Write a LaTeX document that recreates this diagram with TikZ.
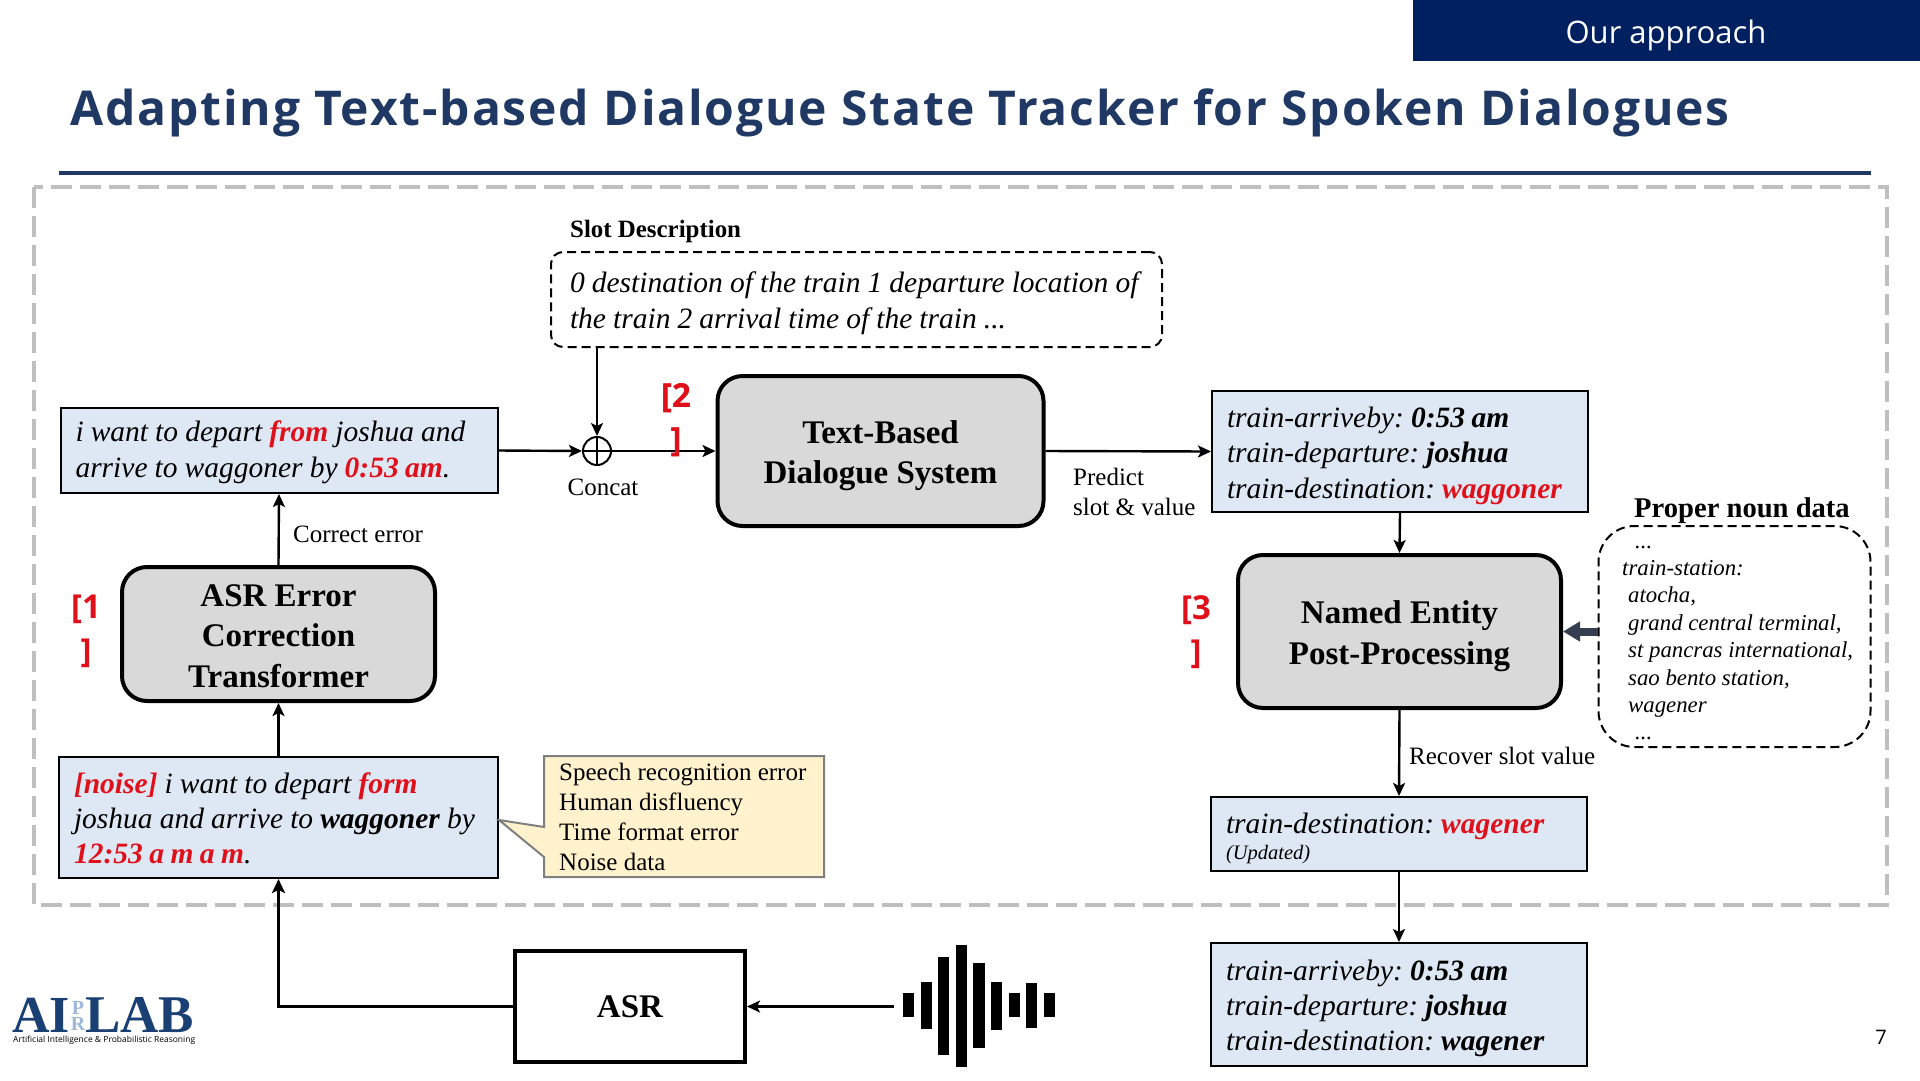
\documentclass[tikz,border=0pt]{standalone}
\usepackage{fontspec}
\setmainfont{Liberation Serif}
\newfontfamily\uifont{Open Sans}
\newfontfamily\titlefont{Open Sans}[LetterSpace=3.9]
\usetikzlibrary{arrows.meta}
\AtBeginDocument{\frenchspacing}
\definecolor{navyhead}{HTML}{002060}
\definecolor{titleblue}{HTML}{1F3864}
\definecolor{framegray}{HTML}{BFBFBF}
\definecolor{boxblue}{HTML}{DEE8F4}
\definecolor{boxgray}{HTML}{D9D9D9}
\definecolor{notefill}{HTML}{FFF2CC}
\definecolor{notedraw}{HTML}{7F7F7F}
\definecolor{hotred}{HTML}{E0101A}
\definecolor{slatearrow}{HTML}{333F50}
\definecolor{logoblue}{HTML}{1A3F72}
\definecolor{logolight}{HTML}{9DB8D9}
\newcommand{\tightsp}[1]{\fontdimen2\font=#1em\relax}
\newcommand{\itbody}{\itshape\tightsp{0.24}}
\newcommand{\rb}[1]{\textcolor{hotred}{\bfseries\tightsp{0.22}#1}}
\newcommand{\bk}[1]{{\bfseries\tightsp{0.22}#1}}
\newcommand{\tp}[1]{\rule{0pt}{#1pt}}
\tikzset{
  bluebox/.style={draw=black,line width=2pt,fill=boxblue,inner xsep=15pt,inner ysep=0pt,align=flush left,
    font=\fontsize{29.5}{36}\selectfont\itbody},
  enginebox/.style={draw=black,line width=4pt,fill=boxgray,rounded corners=25pt,align=center,inner sep=0pt,
    font=\fontsize{33}{40.5}\selectfont\bfseries},
  dashbox/.style={draw=black,line width=2pt,dash pattern=on 9pt off 5pt},
  conn/.style={draw=black,line width=2.4pt,-{Stealth[length=13pt,width=12pt,inset=3pt]}},
  connthick/.style={draw=black,line width=3.2pt,-{Stealth[length=14pt,width=13pt,inset=3pt]}},
  lbl/.style={inner sep=0pt,align=left,font=\fontsize{25}{31}\selectfont},
  refmark/.style={inner sep=0pt,align=center,text=hotred,font=\uifont\bfseries\fontsize{33}{44}\selectfont},
  wavebar/.style={fill=black,draw=none}
}
\begin{document}
\begin{tikzpicture}[x=1pt,y=-1pt]
\useasboundingbox (0,0) rectangle (1920,1080);
\fill[white] (0,0) rectangle (1920,1080);
% header
\fill[navyhead] (1413,0) rectangle (1920,61);
\node[inner sep=0pt,text=white,font=\uifont\fontsize{31}{36}\selectfont] (hdr) at (1666,35) {Our approach};
\node[inner sep=0pt,anchor=west,text=titleblue,font=\titlefont\bfseries\fontsize{48}{56}\selectfont] (ttl) at (70,113) {Adapting Text-based Dialogue State Tracker for Spoken Dialogues};
\draw[titleblue,line width=4pt] (59,173) -- (1871,173);
\draw[framegray,line width=4pt,dash pattern=on 21pt off 8pt] (34,187) rectangle (1887,905);

% left column
\node[bluebox,text width=407pt,minimum height=85pt] (inA) at (279,450.5)
  {\tp{25}i want to depart \rb{from} joshua and\\arrive to waggoner by \rb{0:53 am}.};
\node[enginebox,minimum width=313pt,minimum height=134pt] (corr) at (278.5,634) {\tp{26}ASR Error\\Correction\\Transformer};
\node[bluebox,text width=409pt,minimum height=121pt,font=\fontsize{29.5}{35}\selectfont\itbody] (inC) at (278.5,817.5)
  {\tp{22}\rb{[noise]} i want to depart \rb{form}\\joshua and arrive to \bk{waggoner} by\\\rb{12:53 a m a m}.};
\node[lbl,anchor=west] (corrlbl) at (293,534) {Correct error};
\node[refmark] (ref1) at (86,631) {[1\\]};

% callout
\draw[draw=notedraw,fill=notefill,line width=2pt,line join=miter]
  (544,756) -- (824,756) -- (824,877) -- (544,877) -- (544,857) -- (499,820) -- (544,827) -- cycle;
\node[lbl,anchor=north west,font=\fontsize{25}{30}\selectfont] (note) at (559,763)
  {Speech recognition error\\Human disfluency\\Time format error\\Noise data};

% slot description
\node[inner sep=0pt,anchor=west,font=\fontsize{24.9}{28}\selectfont\bfseries] (slotttl) at (570,232) {Slot Description};
\node[dashbox,rounded corners=12pt,minimum width=611pt,minimum height=95pt,inner xsep=19pt,inner ysep=0pt,text width=573pt,align=flush left,font=\fontsize{29.5}{36}\selectfont\itbody] (slot) at (856.5,299.5)
  {\tp{29}0 destination of the train 1 departure location of\\the train 2 arrival time of the train ...};

% concat
\node[circle,draw=black,line width=2pt,minimum size=28pt,inner sep=0pt] (cc) at (597,451) {};
\draw[black,line width=1.6pt] (cc.north) -- (cc.south) (cc.west) -- (cc.east);
\node[lbl] (cclbl) at (603,487) {Concat};

% text based
\node[enginebox,minimum width=326pt,minimum height=150pt] (tb) at (880.5,451) {\tp{32}Text-Based\\Dialogue System};
\node[lbl,anchor=north west,align=flush left,font=\fontsize{25}{29.5}\selectfont] (pred) at (1073,468) {Predict\\slot \& value};
\node[refmark] (ref2) at (676,420) {[2\\]};

% outputs
\node[bluebox,text width=346pt,minimum height=121pt,font=\fontsize{29.5}{35.5}\selectfont\itbody] (outA) at (1400,451.5)
  {\tp{29}train-arriveby: \bk{0:53 am}\\train-departure: \bk{joshua}\\train-destination: \rb{waggoner}};
\node[enginebox,minimum width=323pt,minimum height=153pt] (ne) at (1399.5,631.5) {\tp{32}Named Entity\\Post-Processing};
\node[refmark] (ref3) at (1196,632) {[3\\]};
\node[inner sep=0pt,font=\fontsize{28.6}{34}\selectfont\bfseries] (nounttl) at (1742,511) {Proper noun data};
\node[dashbox,rounded corners=36pt,minimum width=272pt,minimum height=221pt] (noun) at (1734.5,636.5) {};
\node[inner sep=0pt,anchor=west,align=flush left,font=\fontsize{22.8}{27.4}\selectfont\itshape] (nountxt) at (1622,643)
  {\hspace*{13pt}...\\train-station:\\\hspace*{6pt}atocha,\\\hspace*{6pt}grand central terminal,\\\hspace*{6pt}st pancras international,\\\hspace*{6pt}sao bento station,\\\hspace*{6pt}wagener\\\hspace*{13pt}...};
\node[lbl,anchor=west] (reclbl) at (1409,756) {Recover slot value};
\node[bluebox,text width=346pt,minimum height=74pt,font=\fontsize{29.5}{26}\selectfont\itbody] (outB) at (1399,834)
  {\tp{29}train-destination: \rb{wagener}\\{\fontsize{20.5}{26}\selectfont (Updated)}};
\node[bluebox,text width=346pt,minimum height=123pt,font=\fontsize{29.5}{35}\selectfont\itbody] (outC) at (1399,1004.5)
  {\tp{28}train-arriveby: \bk{0:53 am}\\train-departure: \bk{joshua}\\train-destination: \bk{wagener}};

% bottom
\node[draw=black,line width=4pt,minimum width=230pt,minimum height=111pt,inner sep=0pt,font=\fontsize{33}{40}\selectfont\bfseries] (asr) at (630,1006.5) {ASR};
\coordinate (wv) at (894,1006.5);
\fill[wavebar] (903,993) rectangle (914,1017);
\fill[wavebar] (921,982) rectangle (932,1029);
\fill[wavebar] (938,957) rectangle (949,1055);
\fill[wavebar] (956,945) rectangle (967,1067);
\fill[wavebar] (973,963) rectangle (985,1048);
\fill[wavebar] (991,982) rectangle (1002,1030);
\fill[wavebar] (1009,993) rectangle (1020,1017);
\fill[wavebar] (1026,983) rectangle (1037,1028);
\fill[wavebar] (1044,993) rectangle (1055,1017);

% connectors
\draw[conn] (inC.north) -- (corr.south);
\draw[conn] (corr.north) -- (inA.south);
\draw[conn] (inA.east) -- (cc.west);
\draw[conn] (cc.north |- slot.south) -- (cc.north);
\draw[conn] (cc.east) -- (tb.west);
\draw[conn] (tb.east) -- (outA.west);
\draw[conn] (outA.south) -- (ne.north);
\draw[conn] (ne.south) -- (outB.north);
\draw[conn] (outB.south) -- (outC.north);
\draw[conn] (wv) -- (asr.east);
\draw[connthick] (asr.west) -| (inC.south);
\draw[slatearrow,line width=8pt,-{Triangle[length=17pt,width=19pt]}] (ne.east -| noun.west) -- (ne.east);
\node[refmark] at (676,420) {[2\\]};

% logo
\node[inner sep=0pt,text depth=0pt,anchor=base west,text=logoblue,font=\fontsize{52}{52}\selectfont\bfseries] (lgA) at (12,1032) {AI};
\node[inner sep=0pt,text=logolight,font=\fontsize{20}{15.5}\selectfont\bfseries,align=center] (lgB) at (78,1016) {P\\R};
\node[inner sep=0pt,text depth=0pt,anchor=base west,text=logoblue,font=\fontsize{53}{52}\selectfont\bfseries] (lgC) at (85,1032) {LAB};
\node[inner sep=0pt,anchor=west,font=\uifont\fontsize{8.5}{10}\selectfont] (lgD) at (13,1040) {Artificial Intelligence \& Probabilistic Reasoning};
\node[inner sep=0pt,font=\uifont\fontsize{20}{24}\selectfont] (pg) at (1881,1037) {7};
\end{tikzpicture}
\end{document}
